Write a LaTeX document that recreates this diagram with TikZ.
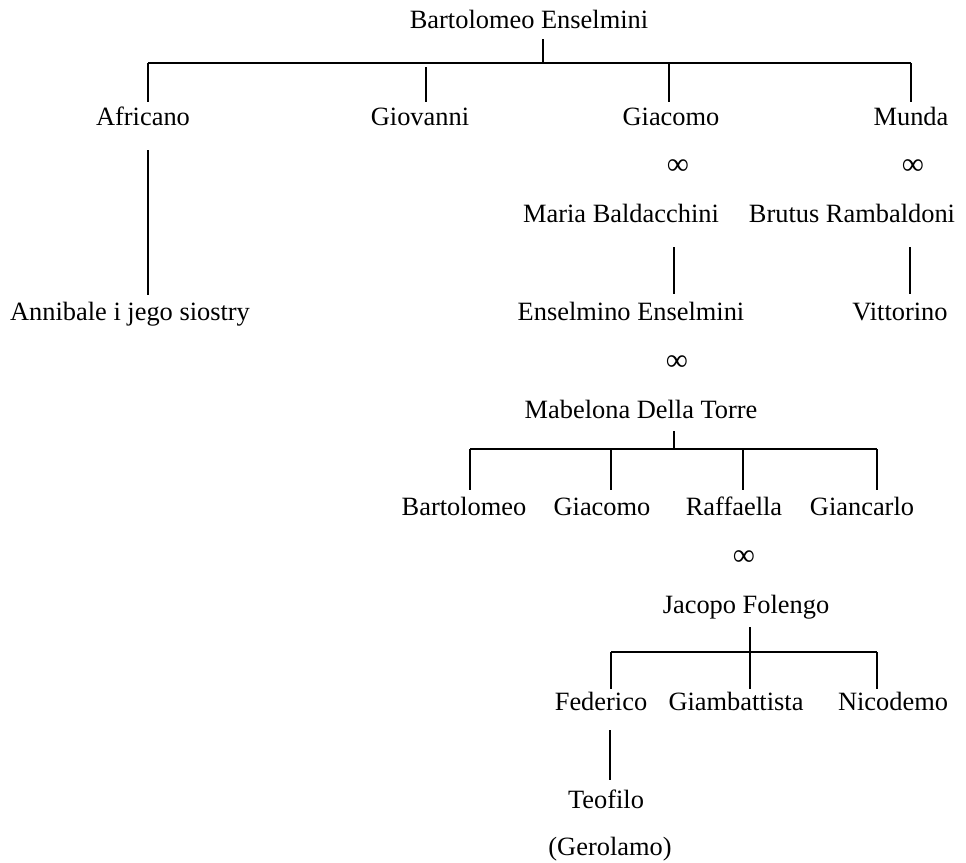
\documentclass[tikz,border=0pt]{standalone}
\usepackage{fontspec}
\setmainfont{Liberation Serif}
\begin{document}
\begin{tikzpicture}[x=1pt,y=-1pt,line width=1.2pt,
  pers/.style={anchor=base, inner sep=0pt, font=\fontsize{26.4}{30}\selectfont},
  marr/.style={anchor=center, inner sep=0pt, font=\fontsize{31}{34}\selectfont}]
\useasboundingbox (0,0) rectangle (966,862);
% generation 1
\node[pers] (bartE) at (529,28){Bartolomeo Enselmini};
\node[pers] (africano) at (143,125){Africano};
\node[pers] (giovanni) at (420,125){Giovanni};
\node[pers] (giacomoA) at (671,125){Giacomo};
\node[pers] (munda) at (911,125){Munda};
\coordinate (cTop) at (543,39);
\coordinate (cBar) at (543,63);
\coordinate (cAfr) at (148,63);
\coordinate (cGio) at (426,67);
\coordinate (cGia) at (669,63);
\coordinate (cMun) at (911,63);
\coordinate (dAfr) at (148,102);
\coordinate (dGio) at (426,102);
\coordinate (dGia) at (669,102);
\coordinate (dMun) at (911,102);
\draw[](cTop) -- (cBar);
\draw[](cAfr) -- (cMun);
\draw[](cAfr) -- (dAfr);
\draw[](cGio) -- (dGio);
\draw[](cGia) -- (dGia);
\draw[](cMun) -- (dMun);
% marriages
\node[marr] (mGia) at (678,167){∞};
\node[marr] (mMun) at (913,167){∞};
\node[pers] (maria) at (621,222){Maria Baldacchini};
\node[pers] (brutus) at (852,222){Brutus Rambaldoni};
% generation 2
\node[pers] (annibale) at (130,320){Annibale i jego siostry};
\node[pers] (enselmino) at (631,320){Enselmino Enselmini};
\node[pers] (vittorino) at (900,320){Vittorino};
\coordinate (uAfr) at (148,150);
\coordinate (uAnn) at (148,295);
\coordinate (uMar) at (674,247);
\coordinate (uEns) at (674,294);
\coordinate (uBru) at (910,247);
\coordinate (uVit) at (910,294);
\draw[](uAfr) -- (uAnn);
\draw[](uMar) -- (uEns);
\draw[](uBru) -- (uVit);
\node[marr] (mEns) at (677,363){∞};
\node[pers] (mabelona) at (641,418){Mabelona Della Torre};
% generation 3
\node[pers] (bartolomeo) at (464,515){Bartolomeo};
\node[pers] (giacomoB) at (602,515){Giacomo};
\node[pers] (raffaella) at (734,515){Raffaella};
\node[pers] (giancarlo) at (862,515){Giancarlo};
\coordinate (cMab) at (674,431);
\coordinate (cMabBar) at (674,449);
\coordinate (cBart) at (470,449);
\coordinate (cGiaB) at (611,449);
\coordinate (cRaf) at (743,449);
\coordinate (cGic) at (877,449);
\coordinate (dBart) at (470,490);
\coordinate (dGiaB) at (611,490);
\coordinate (dRaf) at (743,490);
\coordinate (dGic) at (877,490);
\draw[](cMab) -- (cMabBar);
\draw[](cBart) -- (cGic);
\draw[](cBart) -- (dBart);
\draw[](cGiaB) -- (dGiaB);
\draw[](cRaf) -- (dRaf);
\draw[](cGic) -- (dGic);
\node[marr] (mRaf) at (744,558){∞};
\node[pers] (jacopo) at (746,613){Jacopo Folengo};
% generation 4
\node[pers] (federico) at (601,710){Federico};
\node[pers] (giambattista) at (736,710){Giambattista};
\node[pers] (nicodemo) at (893,710){Nicodemo};
\coordinate (cJac) at (750,627);
\coordinate (dJac) at (750,689);
\coordinate (cFed) at (611,652);
\coordinate (cNic) at (877,652);
\coordinate (dFed) at (611,689);
\coordinate (dNic) at (877,689);
\draw[](cJac) -- (dJac);
\draw[](cFed) -- (cNic);
\draw[](cFed) -- (dFed);
\draw[](cNic) -- (dNic);
% generation 5
\node[pers] (teofilo) at (606,808){Teofilo};
\node[pers] (gerolamo) at (610,855){(Gerolamo)};
\coordinate (uFed) at (610,730);
\coordinate (uTeo) at (610,780);
\draw[](uFed) -- (uTeo);
\end{tikzpicture}
\end{document}
